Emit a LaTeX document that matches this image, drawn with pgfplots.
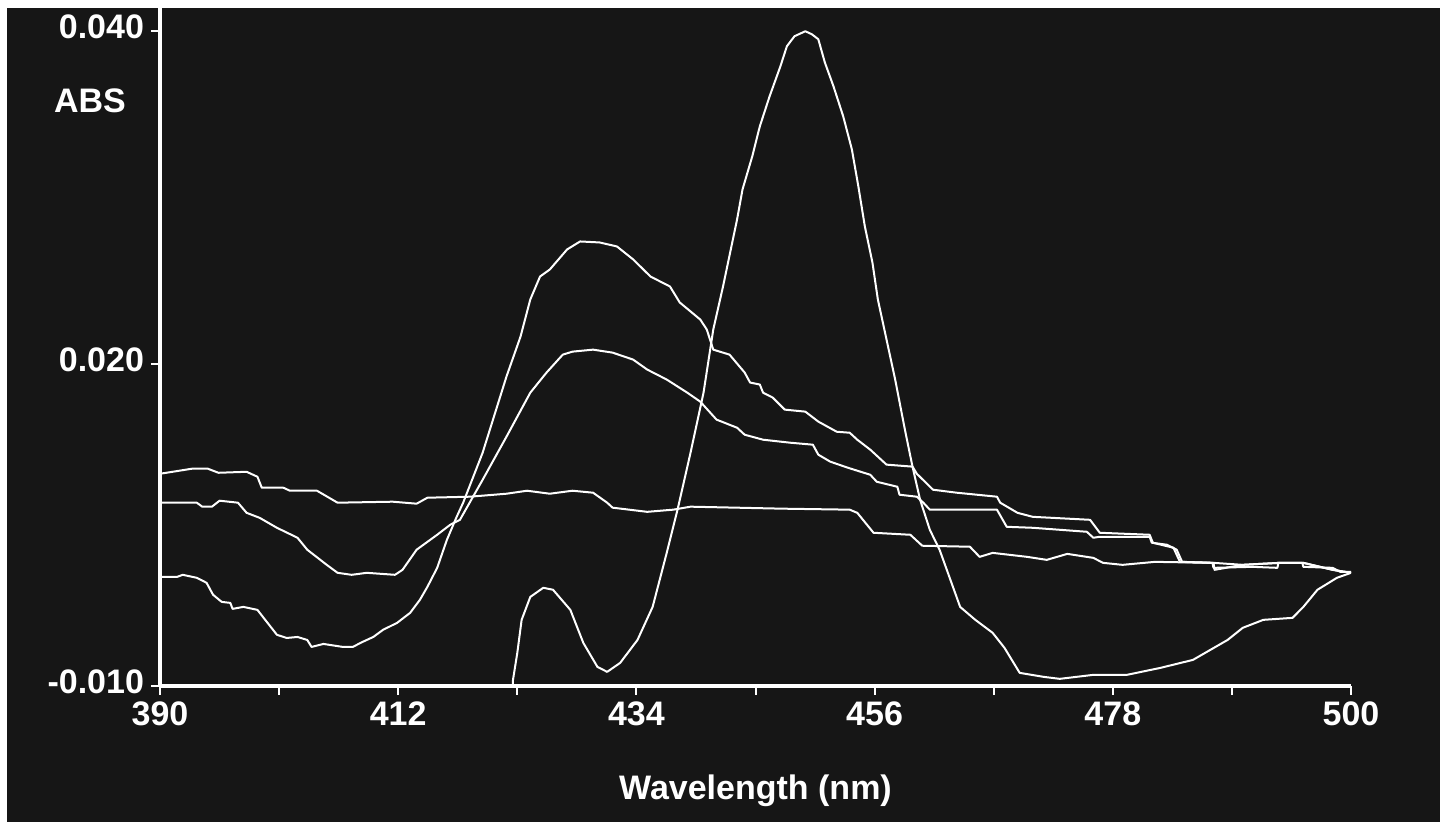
\documentclass[border=0pt]{standalone}
\usepackage{fontspec}
\setmainfont{Liberation Sans}
\usepackage{pgfplots}
\pgfplotsset{compat=1.18}
\definecolor{bg}{RGB}{22,22,22}
\tikzset{spec/.style={white, line width=1pt, sharp plot, mark=none, line join=round}}
\begin{document}
\begin{tikzpicture}
\fill[white] (0,0) rectangle (720pt,411pt);
\fill[bg] (3.5pt,0) rectangle (720pt,407pt);
\begin{axis}[
  at={(80pt,68pt)}, anchor=south west,
  scale only axis, width=595.5pt, height=339pt,
  xmin=390, xmax=500, ymin=0.0006, ymax=0.0414,
  axis x line=bottom, axis y line=left,
  axis line style={white, line width=2pt, -},
  xtick={390,412,434,456,478,500},
  xticklabels={390,412,434,456,478,500},
  minor xtick={401,423,445,467,489},
  ytick={0.0006,0.020,0.040},
  yticklabels={-0.010,0.020,0.040},
  tick align=outside,
  major tick length=4.5pt, minor tick length=4.5pt,
  tick style={white, line width=1pt},
  ticklabel style={font=\fontsize{17}{20}\selectfont\bfseries, text=white},
  yticklabel style={yshift=2pt},
  /pgf/number format/assume math mode=true,
  xlabel={Wavelength (nm)},
  xlabel style={at={(axis description cs:0.5,0)}, anchor=center, yshift=-52.5pt,
    font=\fontsize{17}{20}\selectfont\bfseries, text=white},
]
% flat curve
\addplot[spec] coordinates {
(390.0,0.01337)(393.0,0.01368)(394.4,0.01368)(395.4,0.01343)(398.0,0.01349)(399.0,0.01319)
(399.4,0.01253)(401.4,0.01253)(402.0,0.01235)(404.5,0.01235)(406.4,0.01163)(411.5,0.01169)
(413.7,0.01157)(414.7,0.01193)(418.6,0.01199)(422.0,0.01217)(423.9,0.01235)(426.0,0.01217)
(428.1,0.01235)(430.0,0.01223)(431.3,0.01163)(431.8,0.01133)(435.0,0.01108)(437.4,0.01121)
(439.0,0.01139)(447.5,0.01127)(453.7,0.01121)(454.4,0.01102)(455.9,0.00982)(459.3,0.00970)
(460.4,0.00904)(464.8,0.00898)(465.7,0.00837)(466.9,0.00861)(470.1,0.00837)(471.9,0.00819)
(473.8,0.00855)(476.2,0.00831)(477.1,0.00801)(478.9,0.00789)(481.9,0.00807)(487.2,0.00801)
(487.3,0.00771)(490.9,0.00777)(493.2,0.00771)(493.3,0.00801)(495.5,0.00801)(495.6,0.00777)
(498.3,0.00771)(499.0,0.00747)(500.0,0.00747)
};
% middle broad peak
\addplot[spec] coordinates {
(390.0,0.01163)(393.4,0.01163)(393.9,0.01139)(394.8,0.01139)(395.5,0.01175)(397.2,0.01163)
(398.0,0.01102)(399.2,0.01072)(400.8,0.01012)(402.7,0.00952)(403.6,0.00880)(405.4,0.00789)
(406.4,0.00741)(407.7,0.00729)(409.1,0.00741)(411.7,0.00729)(412.4,0.00759)(413.7,0.00880)
(415.6,0.00970)(416.8,0.01030)(417.7,0.01060)(419.8,0.01301)(422.0,0.01560)(424.2,0.01825)
(425.7,0.01946)(427.2,0.02054)(428.1,0.02072)(430.0,0.02084)(431.8,0.02066)(433.7,0.02024)
(435.0,0.01964)(436.8,0.01904)(438.7,0.01825)(439.9,0.01771)(441.4,0.01663)(443.3,0.01614)
(444.0,0.01572)(445.7,0.01542)(448.2,0.01524)(450.3,0.01512)(450.8,0.01452)(451.9,0.01410)
(453.5,0.01374)(455.6,0.01331)(456.2,0.01289)(458.1,0.01259)(458.3,0.01211)(459.9,0.01199)
(460.5,0.01163)(461.1,0.01121)(467.3,0.01121)(468.2,0.01018)(470.6,0.01012)(475.6,0.00988)
(476.2,0.00952)(476.8,0.00958)(481.4,0.00958)(481.6,0.00922)(483.0,0.00910)(483.9,0.00880)
(484.4,0.00807)(487.3,0.00801)(487.4,0.00759)(490.0,0.00789)(493.4,0.00801)(495.6,0.00801)
(498.3,0.00759)(500.0,0.00741)
};
% tall broad peak
\addplot[spec] coordinates {
(390.0,0.00717)(391.6,0.00717)(392.1,0.00729)(393.4,0.00711)(394.3,0.00681)(394.9,0.00609)
(395.7,0.00566)(396.5,0.00560)(396.7,0.00524)(397.7,0.00536)(399.0,0.00518)(399.5,0.00476)
(400.8,0.00368)(401.7,0.00349)(402.7,0.00355)(403.6,0.00337)(404.0,0.00295)(405.1,0.00313)
(406.9,0.00295)(407.8,0.00295)(408.7,0.00325)(409.7,0.00355)(410.6,0.00398)(411.9,0.00440)
(413.1,0.00500)(414.0,0.00578)(414.7,0.00657)(415.6,0.00771)(416.5,0.00940)(417.4,0.01078)
(418.0,0.01163)(419.8,0.01464)(422.0,0.01922)(423.3,0.02163)(424.2,0.02386)(425.1,0.02524)
(426.0,0.02566)(427.6,0.02687)(428.8,0.02735)(430.6,0.02729)(432.2,0.02705)(433.7,0.02627)
(435.3,0.02524)(437.1,0.02464)(438.0,0.02368)(439.9,0.02265)(440.5,0.02205)(441.1,0.02084)
(442.6,0.02054)(444.0,0.01946)(444.5,0.01886)(445.4,0.01874)(445.7,0.01825)(446.6,0.01795)
(447.7,0.01723)(449.6,0.01711)(450.8,0.01651)(452.5,0.01590)(453.7,0.01584)(454.4,0.01542)
(455.6,0.01482)(457.1,0.01392)(459.5,0.01380)(459.9,0.01337)(461.4,0.01241)(463.6,0.01223)
(467.3,0.01199)(467.6,0.01163)(469.2,0.01102)(470.6,0.01078)(475.9,0.01060)(476.8,0.00982)
(481.4,0.00970)(481.7,0.00922)(483.6,0.00892)(484.2,0.00807)(487.3,0.00801)(490.0,0.00789)
(493.4,0.00801)(495.6,0.00801)(498.3,0.00759)(500.0,0.00741)
};
% sharp peak
\addplot[spec] coordinates {
(422.6,0.00060)(422.6,0.00096)(423.0,0.00259)(423.4,0.00458)(424.2,0.00596)(425.4,0.00651)
(426.3,0.00639)(427.9,0.00518)(429.1,0.00319)(430.4,0.00175)(431.3,0.00145)(432.5,0.00199)
(434.1,0.00337)(435.5,0.00536)(436.8,0.00861)(437.8,0.01121)(439.0,0.01464)(440.2,0.01825)
(441.1,0.02205)(442.0,0.02464)(443.3,0.02868)(443.8,0.03048)(444.7,0.03247)(445.4,0.03428)
(446.3,0.03608)(447.3,0.03789)(447.9,0.03910)(448.6,0.03970)(449.6,0.04000)(450.2,0.03982)
(450.8,0.03952)(451.4,0.03813)(452.2,0.03669)(453.1,0.03488)(453.9,0.03289)(454.5,0.03066)
(455.1,0.02825)(455.8,0.02608)(456.3,0.02386)(457.1,0.02145)(457.9,0.01904)(458.8,0.01602)
(459.5,0.01380)(460.2,0.01181)(461.1,0.01000)(462.0,0.00880)(463.0,0.00699)(463.9,0.00536)
(465.3,0.00458)(466.9,0.00380)(468.0,0.00289)(469.4,0.00139)(471.6,0.00115)(473.1,0.00103)
(476.2,0.00127)(479.3,0.00127)(482.4,0.00169)(485.4,0.00217)(488.6,0.00337)(490.0,0.00410)
(491.9,0.00458)(494.6,0.00470)(495.6,0.00536)(496.9,0.00639)(498.7,0.00711)(500.0,0.00741)
};
\end{axis}
\node[anchor=west, text=white, font=\fontsize{17}{20}\selectfont\bfseries] at (23.5pt,360.5pt) {ABS};
\pgfresetboundingbox
\useasboundingbox (0,0) rectangle (720pt,411pt);
\end{tikzpicture}
\end{document}
